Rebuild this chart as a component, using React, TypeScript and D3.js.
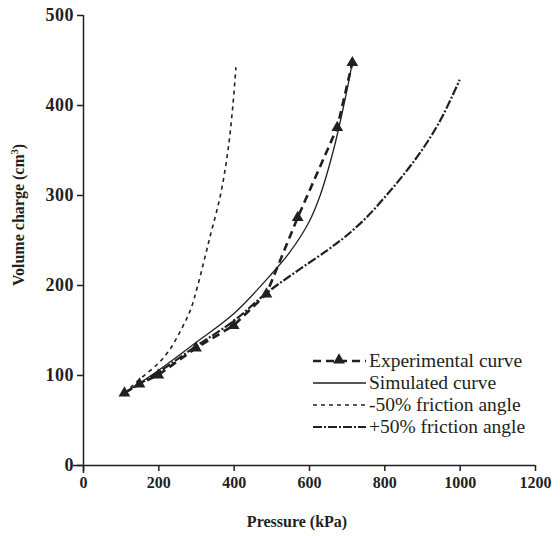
import React, { useEffect, useRef } from "react";
import * as d3 from "d3";

// pressure (kPa), volume change (cm3)
const experimental: [number, number][] = [
  [110, 80], [150, 90], [200, 100], [300, 130], [400, 155],
  [487, 190], [570, 275], [675, 375], [715, 447],
];
const simulated: [number, number][] = [
  [110, 80], [200, 105], [300, 136], [400, 168], [500, 212],
  [550, 237], [600, 270], [630, 300], [665, 350], [690, 395], [714, 445],
];
const minus50: [number, number][] = [
  [110, 80], [150, 95], [200, 113], [230, 128], [260, 150], [285, 172],
  [305, 200], [335, 250], [365, 300], [385, 350], [398, 400], [406, 442],
];
const plus50: [number, number][] = [
  [110, 80], [200, 103], [300, 132], [400, 160], [490, 192],
  [570, 216], [650, 239], [700, 255], [750, 274], [800, 297],
  [850, 322], [900, 350], [950, 384], [1000, 428],
];

const xTicks = [0, 200, 400, 600, 800, 1000, 1200];
const yTicks = [0, 100, 200, 300, 400, 500];
const legendLabels = [
  "Experimental curve",
  "Simulated curve",
  "-50% friction angle",
  "+50% friction angle",
];

const App = () => {
  const svgRef = useRef<SVGSVGElement>(null);

  useEffect(() => {
    const svg = d3.select(svgRef.current);
    svg.selectAll("*").remove();

    const x = d3.scaleLinear().domain([0, 1200]).range([83, 535]);
    const y = d3.scaleLinear().domain([0, 500]).range([465, 15]);
    const font = "'Liberation Serif', 'Times New Roman', serif";
    const ink = "#231f20";

    // axes
    const xAxis = svg.append("g")
      .attr("transform", `translate(0,${y(0)})`)
      .call(d3.axisBottom(x).tickValues(xTicks).tickSize(6).tickPadding(6).tickFormat(d3.format("d")));
    xAxis.select(".domain").attr("d", `M${x(0) - 10},0.5H${x(1200)}`);

    const yAxis = svg.append("g")
      .attr("transform", `translate(${x(0)},0)`)
      .call(d3.axisLeft(y).tickValues(yTicks).tickSize(6).tickPadding(3).tickFormat(d3.format("d")));
    yAxis.select(".domain").attr("d", `M0.5,${y(500)}V${y(0) + 8}`);

    svg.selectAll(".domain").attr("stroke", ink).attr("stroke-width", 1.5);
    svg.selectAll(".tick line").attr("stroke", ink).attr("stroke-width", 1.5);
    xAxis.selectAll("text")
      .attr("font-family", font).attr("font-size", 16).attr("font-weight", "bold").attr("fill", ink);
    yAxis.selectAll("text")
      .attr("font-family", font).attr("font-size", 18).attr("font-weight", "bold")
      .attr("letter-spacing", 0.5).attr("fill", ink);

    // axis titles
    svg.append("text")
      .attr("x", 297).attr("y", 527)
      .attr("text-anchor", "middle")
      .attr("font-family", font).attr("font-size", 16).attr("font-weight", "bold")
      .attr("fill", ink)
      .text("Pressure (kPa)");

    const yt = svg.append("text")
      .attr("transform", `translate(24,${215}) rotate(-90)`)
      .attr("text-anchor", "middle")
      .attr("font-family", font).attr("font-size", 16).attr("font-weight", "bold")
      .attr("fill", ink);
    yt.append("tspan").text("Volume charge (cm");
    yt.append("tspan").attr("font-size", 10).attr("dy", -6).text("3");
    yt.append("tspan").attr("dy", 6).text(")");

    const line = d3.line<[number, number]>()
      .x(d => x(d[0]))
      .y(d => y(d[1]));
    const smooth = d3.line<[number, number]>()
      .x(d => x(d[0]))
      .y(d => y(d[1]))
      .curve(d3.curveCatmullRom.alpha(0.5));

    const styles = [
      { w: 2.6, dash: "8,5" },
      { w: 1.3, dash: null },
      { w: 1.6, dash: "4,4" },
      { w: 2.2, dash: "9,2,2,2" },
    ];

    svg.append("path").datum(plus50)
      .attr("fill", "none").attr("stroke", ink)
      .attr("stroke-width", styles[3].w).attr("stroke-dasharray", styles[3].dash)
      .attr("d", smooth);
    svg.append("path").datum(minus50)
      .attr("fill", "none").attr("stroke", ink)
      .attr("stroke-width", styles[2].w).attr("stroke-dasharray", styles[2].dash)
      .attr("d", smooth);
    svg.append("path").datum(simulated)
      .attr("fill", "none").attr("stroke", ink)
      .attr("stroke-width", styles[1].w)
      .attr("d", smooth);
    svg.append("path").datum(experimental)
      .attr("fill", "none").attr("stroke", ink)
      .attr("stroke-width", styles[0].w).attr("stroke-dasharray", styles[0].dash)
      .attr("d", line);

    const tri = d3.symbol().type(d3.symbolTriangle).size(60);
    svg.selectAll(".tri")
      .data(experimental)
      .enter().append("path")
      .attr("class", "tri")
      .attr("transform", d => `translate(${x(d[0])},${y(d[1])})`)
      .attr("fill", ink)
      .attr("d", tri);

    // legend
    const lg = svg.append("g").attr("transform", "translate(313,361)");
    legendLabels.forEach((label, i) => {
      const row = lg.append("g").attr("transform", `translate(0,${i * 22})`);
      row.append("line")
        .attr("x1", 0).attr("x2", 53).attr("y1", 0).attr("y2", 0)
        .attr("stroke", ink)
        .attr("stroke-width", styles[i].w)
        .attr("stroke-dasharray", styles[i].dash);
      if (i === 0) {
        row.append("path").attr("transform", "translate(26,-1)").attr("fill", ink).attr("d", tri);
      }
      row.append("text")
        .attr("x", 56).attr("y", 6)
        .attr("font-family", font).attr("font-size", 19.5)
        .attr("fill", ink)
        .text(label);
    });
  }, []);

  return (
    <svg
      ref={svgRef}
      width={560}
      height={536}
      style={{ position: "absolute", left: 0, top: 0, background: "white" }}
    />
  );
};

export default App;
